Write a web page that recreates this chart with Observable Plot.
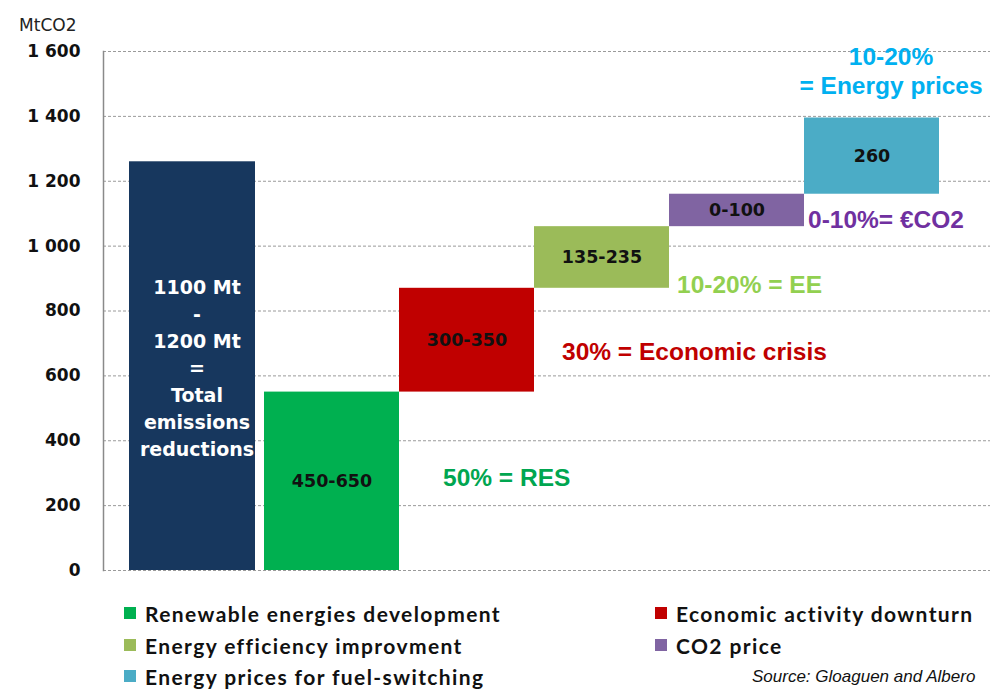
<!DOCTYPE html>
<html><head><meta charset="utf-8">
<script src="https://cdn.jsdelivr.net/npm/d3@7"></script>
<script src="https://cdn.jsdelivr.net/npm/@observablehq/plot@0.6"></script>
<style>
body{margin:0;background:#fff;}
#wrap{position:relative;width:990px;height:690px;overflow:hidden;background:#fff;}
#chart svg{display:block;}
.leg{position:absolute;display:flex;align-items:center;font-family:Lato,"DejaVu Sans",sans-serif;font-weight:bold;font-size:21px;color:#111;white-space:nowrap;letter-spacing:1.4px;}
.leg .sw{width:12px;height:12px;margin-right:9px;display:inline-block;}
#source{position:absolute;left:752px;top:667px;line-height:20px;font-family:"Liberation Sans",Arial,sans-serif;font-style:italic;font-size:17px;color:#111;white-space:nowrap;}
</style></head><body>
<div id="wrap"><div id="chart"></div><div id="legend"></div><div id="source"></div></div>
<script>
const categories = ["Total", "Renewable energies development", "Economic activity downturn", "Energy efficiency improvment", "CO2 price", "Energy prices for fuel-switching"];
const lows  = [0, 0, 550, 870, 1060, 1160];
const highs = [1260, 550, 870, 1060, 1160, 1395];
const barLabels = ["", "450-650", "300-350", "135-235", "0-100", "260"];
const colors = ["#17375e", "#00b050", "#c00000", "#9bbb59", "#8064a2", "#4bacc6"];
const totalLabel = "1100 Mt\n-\n1200 Mt\n=\nTotal\nemissions\nreductions";
const yTicks = [0, 200, 400, 600, 800, 1000, 1200, 1400, 1600];
const yUnit = "MtCO2";
const annotTexts = ["50% = RES", "30% = Economic crisis", "10-20% = EE", "0-10%= €CO2", "10-20%\n= Energy prices"];
const annotColors = ["#00a650", "#c00000", "#92d050", "#7030a0", "#00b0f0"];
const annotCats = [categories[1], categories[2], categories[3], categories[4], categories[5]];
const annotValues = [290, 678, 885, 1085, 1543];
const legendLabels = categories.slice(1);
const legendColors = colors.slice(1);
const sourceText = "Source: Gloaguen and Albero";

const idx = d3.range(categories.length);
const fmt = d => d3.format(",")(d).replace(/,/g, " ");
const annotDx = [111, 95, 75, 71, 19];

const marks = [
  Plot.ruleY(yTicks, {y: d => d, stroke: "#9a9a9a", strokeDasharray: "3,2", strokeWidth: 1}),
  Plot.barY([0], {x: i => categories[i], y1: i => lows[i], y2: i => highs[i], fill: i => colors[i], insetRight: 9}),
  Plot.barY(idx.slice(1), {x: i => categories[i], y1: i => lows[i], y2: i => highs[i], fill: i => colors[i]}),
  Plot.frame({anchor: "left", stroke: "#8a8a8a", strokeWidth: 1.5}),
  Plot.text(yTicks, {frameAnchor: "left", y: d => d, text: fmt, textAnchor: "end", dx: -23, fontSize: 17, fontWeight: "bold", fontFamily: "DejaVu Sans", fill: "#111"}),
  Plot.text([yUnit], {frameAnchor: "top-left", text: d => d, textAnchor: "end", dx: -27, dy: -33, fontSize: 17, fontFamily: "DejaVu Sans", fill: "#222"}),
  Plot.text(idx.slice(1), {x: i => categories[i], y: i => (lows[i] + highs[i]) / 2, text: i => barLabels[i], fontSize: 17.5, fontWeight: "bold", fontFamily: "DejaVu Sans", fill: "#111"}),
  Plot.text([0], {x: i => categories[i], y: i => (lows[i] + highs[i]) / 2, text: () => totalLabel, dx: 0, lineHeight: 1.42, fontSize: 19, fontWeight: "bold", fontFamily: "DejaVu Sans", fill: "#fff"})
];
annotTexts.forEach((t, k) => {
  const multi = t.includes("\n");
  marks.push(Plot.text([k], {x: i => annotCats[i], y: i => annotValues[i], text: i => annotTexts[i], fill: i => annotColors[i],
    textAnchor: multi ? "middle" : "start", dx: annotDx[k], lineHeight: 1.2,
    fontSize: 24.5, fontWeight: "bold", fontFamily: "Liberation Sans"}));
});

const chart = Plot.plot({
  width: 990, height: 595,
  marginLeft: 103, marginRight: 0, marginTop: 51, marginBottom: 25,
  x: {type: "band", domain: categories, paddingInner: 0, paddingOuter: 0.265, align: 0.333, axis: null},
  y: {domain: [0, 1600], axis: null},
  color: {type: "identity"},
  style: {background: "#fff", overflow: "visible"},
  marks
});
document.getElementById("chart").appendChild(chart);

const legPos = [[124, 613], [655, 613], [124, 645], [655, 645], [124, 676]];
const leg = document.getElementById("legend");
legendLabels.forEach((lab, i) => {
  const el = document.createElement("div");
  el.className = "leg";
  el.style.left = legPos[i][0] + "px";
  el.style.top = (legPos[i][1] - 13) + "px";
  el.style.height = "26px";
  el.innerHTML = `<span class="sw" style="background:${legendColors[i]}"></span><span>${lab}</span>`;
  leg.appendChild(el);
});
document.getElementById("source").textContent = sourceText;
</script>
</body></html>
